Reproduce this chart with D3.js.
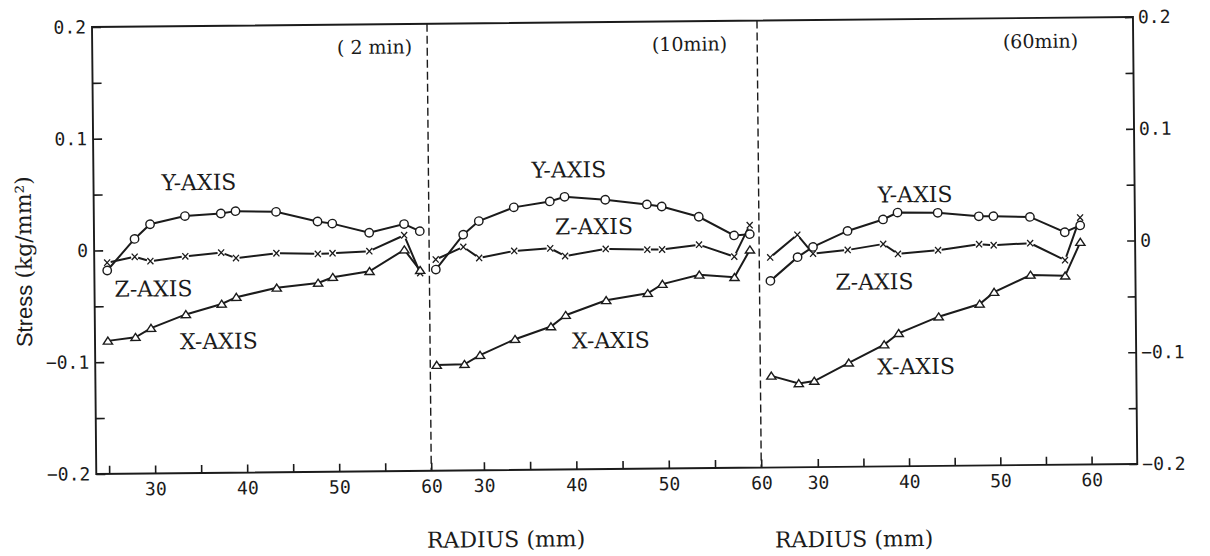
<!DOCTYPE html>
<html>
<head>
<meta charset="utf-8">
<script src="https://cdn.jsdelivr.net/npm/d3@7"></script>
<style>
  html, body { margin: 0; padding: 0; background: #fff; }
  svg { display: block; }
</style>
</head>
<body>
<svg id="chart" width="1210" height="556"></svg>
<script>
// Radial measurement stations (mm), common to every run
const radius = [25.0, 28.0, 29.7, 33.5, 37.4, 39.0, 43.4, 47.9, 49.5, 53.5, 57.3, 59.0];

// Stress along the Y axis (open circles), kg/mm²
const yStress2  = [-0.018, 0.010, 0.023, 0.030, 0.032, 0.034, 0.033, 0.024, 0.022, 0.0135, 0.021, 0.0145];
const yStress10 = [-0.020, 0.011, 0.023, 0.035, 0.040, 0.044, 0.041, 0.0365, 0.0345, 0.025, 0.008, 0.009];
const yStress60 = [-0.033, -0.012, -0.003, 0.011, 0.021, 0.027, 0.0265, 0.023, 0.023, 0.022, 0.008, 0.014];

// Stress along the Z axis (crosses)
const zStress2  = [-0.011, -0.006, -0.010, -0.006, -0.003, -0.008, -0.004, -0.005, -0.0045, -0.003, 0.011, -0.023];
const zStress10 = [-0.011, 0.000, -0.010, -0.004, -0.002, -0.009, -0.003, -0.004, -0.004, 0.000, -0.011, 0.017];
const zStress60 = [-0.012, 0.008, -0.009, -0.006, -0.001, -0.010, -0.007, -0.002, -0.003, -0.0015, -0.017, 0.021];

// Stress along the X axis (open triangles)
const xStress2  = [-0.081, -0.078, -0.070, -0.058, -0.049, -0.043, -0.035, -0.031, -0.026, -0.021, -0.002, -0.0205];
const xStress10 = [-0.1055, -0.105, -0.097, -0.083, -0.072, -0.062, -0.049, -0.043, -0.035, -0.027, -0.0295, -0.005];
const xStress60 = [-0.118, -0.125, -0.123, -0.107, -0.091, -0.081, -0.0665, -0.0555, -0.045, -0.030, -0.031, -0.001];

const runLabels = ["( 2 min)", "(10min)", "(60min)"];
const seriesNames = ["Y-AXIS", "Z-AXIS", "X-AXIS"];

// Tick values and labels
const stressMajor = [0.2, 0.1, 0, -0.1, -0.2];
const stressMajorText = ["0.2", "0.1", "0", "\u22120.1", "\u22120.2"];
const stressMinor = [0.15, 0.05, -0.05, -0.15];
const radiusTicks = [[25, 30, 35, 40, 45, 50, 55, 60], [30, 35, 40, 45, 50, 55, 60], [30, 35, 40, 45, 50, 55, 60]];
const radiusLabelled = [30, 40, 50, 60];

// ---------------------------------------------------------------- layout
const INK = "#1b1b1b";
const W = 1041, H = 447;
const svg = d3.select("#chart");
const root = svg.append("g").attr("transform", "translate(92,27) rotate(-0.55)");

const y = d3.scaleLinear().domain([0.2, -0.2]).range([0, H]);

const panels = [
  { domain: [23.6, 60], range: [0, 335],   y: yStress2,  z: zStress2,  x: xStress2 },
  { domain: [24.3, 60], range: [335, 665], y: yStress10, z: zStress10, x: xStress10 },
  { domain: [23.8, 65], range: [665, W],   y: yStress60, z: zStress60, x: xStress60 }
];
panels.forEach(p => { p.scale = d3.scaleLinear().domain(p.domain).range(p.range); });

// ---------------------------------------------------------------- frame
root.append("path")
  .attr("d", `M0,0H${W}V${H}H0Z`)
  .attr("fill", "none").attr("stroke", INK).attr("stroke-width", 1.9);

// dashed separators between the runs
[335, 665].forEach(u => {
  root.append("line")
    .attr("x1", u).attr("x2", u).attr("y1", 0).attr("y2", H)
    .attr("stroke", INK).attr("stroke-width", 1.4)
    .attr("stroke-dasharray", "8,4");
});

// ---------------------------------------------------------------- stress axes
const monoFont = "'DejaVu Sans Mono', 'Liberation Mono', monospace";
const serifFont = "'DejaVu Serif', 'Liberation Serif', serif";

const majorFmt = v => stressMajorText[stressMajor.findIndex(m => Math.abs(m - v) < 1e-9)] ?? "";

function styleAxis(g) {
  g.select(".domain").remove();
  g.selectAll(".tick line").attr("stroke", INK).attr("stroke-width", 1.6);
  g.selectAll(".tick text")
    .attr("fill", INK)
    .style("font-family", monoFont)
    .style("font-size", "18px");
}

root.append("g")
  .call(d3.axisLeft(y)
    .tickValues(stressMajor.concat(stressMinor))
    .tickSize(-9).tickSizeOuter(0).tickPadding(6)
    .tickFormat(majorFmt))
  .call(styleAxis);

root.append("g")
  .attr("transform", `translate(${W},0)`)
  .call(d3.axisRight(y)
    .tickValues(stressMajor.concat(stressMinor))
    .tickSize(-8).tickSizeOuter(0).tickPadding(5)
    .tickFormat(majorFmt))
  .call(styleAxis);

// ---------------------------------------------------------------- radius axes
panels.forEach((p, i) => {
  root.append("g")
    .attr("transform", `translate(0,${H})`)
    .call(d3.axisBottom(p.scale)
      .tickValues(radiusTicks[i])
      .tickSize(-8).tickSizeOuter(0).tickPadding(9)
      .tickFormat(d => radiusLabelled.includes(d) ? String(d) : ""))
    .call(styleAxis);
});

// ---------------------------------------------------------------- curves
const lineGen = sx => d3.line().x(d => sx(d[0])).y(d => y(d[1]));

function pointsOf(values) { return radius.map((r, k) => [r, values[k]]); }

panels.forEach(p => {
  const g = root.append("g");
  const sx = p.scale;

  // Y-axis stress: solid line through open circles
  const yPts = pointsOf(p.y);
  g.append("path").attr("d", lineGen(sx)(yPts))
    .attr("fill", "none").attr("stroke", INK).attr("stroke-width", 2);

  // X-axis stress: solid line through open triangles
  const xPts = pointsOf(p.x);
  g.append("path").attr("d", lineGen(sx)(xPts))
    .attr("fill", "none").attr("stroke", INK).attr("stroke-width", 2);

  // Z-axis stress: segments that stop short of each cross
  const zPts = pointsOf(p.z).map(d => [sx(d[0]), y(d[1])]);
  const gap = 3.6;
  const segPath = d3.path();
  for (let k = 0; k < zPts.length - 1; k++) {
    const [x0, y0] = zPts[k], [x1, y1] = zPts[k + 1];
    const len = Math.hypot(x1 - x0, y1 - y0);
    if (len <= 2 * gap) continue;
    const ux = (x1 - x0) / len, uy = (y1 - y0) / len;
    segPath.moveTo(x0 + ux * gap, y0 + uy * gap);
    segPath.lineTo(x1 - ux * gap, y1 - uy * gap);
  }
  g.append("path").attr("d", segPath.toString())
    .attr("fill", "none").attr("stroke", INK).attr("stroke-width", 2);

  // crosses
  g.selectAll(null).data(zPts).join("path")
    .attr("d", d => `M${d[0] - 3},${d[1] - 3.2}L${d[0] + 3},${d[1] + 3.2}M${d[0] + 3},${d[1] - 3.2}L${d[0] - 3},${d[1] + 3.2}`)
    .attr("stroke", INK).attr("stroke-width", 1.3).attr("fill", "none");

  // circles
  g.selectAll(null).data(yPts).join("circle")
    .attr("cx", d => sx(d[0])).attr("cy", d => y(d[1])).attr("r", 4.2)
    .attr("fill", "#fff").attr("stroke", INK).attr("stroke-width", 1.4);

  // triangles
  g.selectAll(null).data(xPts).join("path")
    .attr("transform", d => `translate(${sx(d[0])},${y(d[1])})`)
    .attr("d", "M0,-3.8L4.6,3.2L-4.6,3.2Z")
    .attr("fill", "#fff").attr("stroke", INK).attr("stroke-width", 1.4);
});

// ---------------------------------------------------------------- annotations
const text = root.append("g").attr("fill", INK).style("font-family", serifFont);

// series names beside each curve (u, v in plot pixels)
const tagSpots = [
  [[68, 164], [20, 270], [85, 323]],
  [[438, 155], [461, 212], [477, 326]],
  [[784, 183], [741, 270], [782, 355]]
];
tagSpots.forEach(spots => spots.forEach((s, k) => {
  text.append("text").attr("x", s[0]).attr("y", s[1])
    .style("font-size", "22px").text(seriesNames[k]);
}));

// elapsed-time labels, right-aligned in each run
[[320, 29.5], [635, 29.5], [986, 30]].forEach((s, i) => {
  text.append("text").attr("x", s[0]).attr("y", s[1])
    .attr("text-anchor", "end").style("font-size", "19px").text(runLabels[i]);
});

// radius titles
[[330, 524], [678, 527]].forEach(s => {
  text.append("text").attr("x", s[0]).attr("y", s[1])
    .style("font-size", "22px").text("RADIUS (mm)");
});

// stress title
const yt = text.append("text")
  .attr("transform", "translate(-62.7,234) rotate(-90)")
  .attr("text-anchor", "middle");
yt.append("tspan").style("font-family", "'Liberation Sans', Arial, sans-serif").style("font-size", "22px").text("Stress ");
yt.append("tspan").style("font-size", "22px").text("(kg/mm\u00B2)");
</script>
</body>
</html>
